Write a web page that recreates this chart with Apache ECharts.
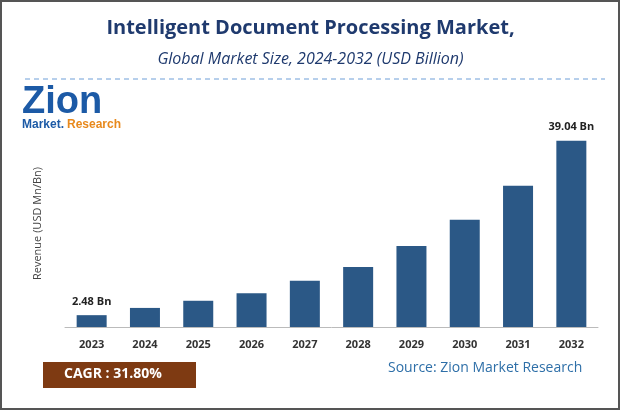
<!DOCTYPE html>
<html><head><meta charset="utf-8">
<script src="https://cdn.jsdelivr.net/npm/echarts@6/dist/echarts.min.js"></script>
<style>html,body{margin:0;padding:0;background:#fff}#c{width:621px;height:411px}</style>
</head><body><div id="c"></div>
<script>
const years = ["2023","2024","2025","2026","2027","2028","2029","2030","2031","2032"];
const revenue = [2.48, 4.0, 5.5, 7.1, 9.7, 12.6, 17.0, 22.5, 29.6, 39.04];
const labelled = {0: "2.48 Bn", 9: "39.04 Bn"};

const chart = echarts.init(document.getElementById("c"));
chart.setOption({
  animation: false,
  textStyle: { fontFamily: "Open Sans" },
  title: [
    { text: "Intelligent Document Processing Market,", left: "center", top: 13,
      textStyle: { fontSize: 20, fontWeight: "bold", color: "#1f3a6e", fontFamily: "Open Sans" } },
    { text: "Global Market Size, 2024-2032 (USD Billion)", left: "center", top: 46,
      textStyle: { fontSize: 16, fontStyle: "italic", fontWeight: "normal", color: "#1f3a6e", fontFamily: "Open Sans" } }
  ],
  grid: { left: 65, right: 23, top: 120, bottom: 84 },
  xAxis: {
    type: "category", data: years,
    axisLine: { lineStyle: { color: "#bbb" } }, axisTick: { show: false },
    axisLabel: { color: "#333", fontWeight: "bold", fontSize: 11, margin: 12 }
  },
  yAxis: {
    type: "value", min: 0, max: 43.4,
    name: "Revenue (USD Mn/Bn)", nameLocation: "middle", nameGap: 22,
    nameTextStyle: { color: "#444", fontSize: 11 },
    axisLabel: { show: false }, splitLine: { show: false }, axisLine: { show: false }, axisTick: { show: false }
  },
  series: [{
    type: "bar", data: revenue, barWidth: 30,
    itemStyle: { color: "#2b5886" },
    label: { show: true, position: "top", color: "#222", fontWeight: "bold", fontSize: 11, distance: 8,
      formatter: p => labelled[p.dataIndex] || "" }
  }],
  graphic: [
    { type: "rect", shape: { x: 1, y: 1, width: 618, height: 408 }, style: { fill: "none", stroke: "#555", lineWidth: 2 } },
    { type: "line", shape: { x1: 25, y1: 79, x2: 605, y2: 79 }, style: { stroke: "#6f9fd8", lineDash: [5, 4], lineWidth: 1 } },
    { type: "text", left: 22, top: 84, style: { text: "Zion", font: "bold 38px Arial", fill: "#1c5aa6" } },
    { type: "text", left: 22, top: 119, style: { text: "Market.", font: "bold 12px Arial", fill: "#1c5aa6" } },
    { type: "text", left: 67, top: 119, style: { text: "Research", font: "bold 12px Arial", fill: "#e8891c" } },
    { type: "rect", shape: { x: 43, y: 362, width: 153, height: 26 }, style: { fill: "#7e3a12" } },
    { type: "text", left: 64, top: 367, style: { text: "CAGR : 31.80%", font: "bold 14px Open Sans", fill: "#fff" } },
    { type: "text", left: 388, top: 361, style: { text: "Source: Zion Market Research", font: "14px Open Sans", fill: "#2e6fa8" } }
  ]
});
</script></body></html>
